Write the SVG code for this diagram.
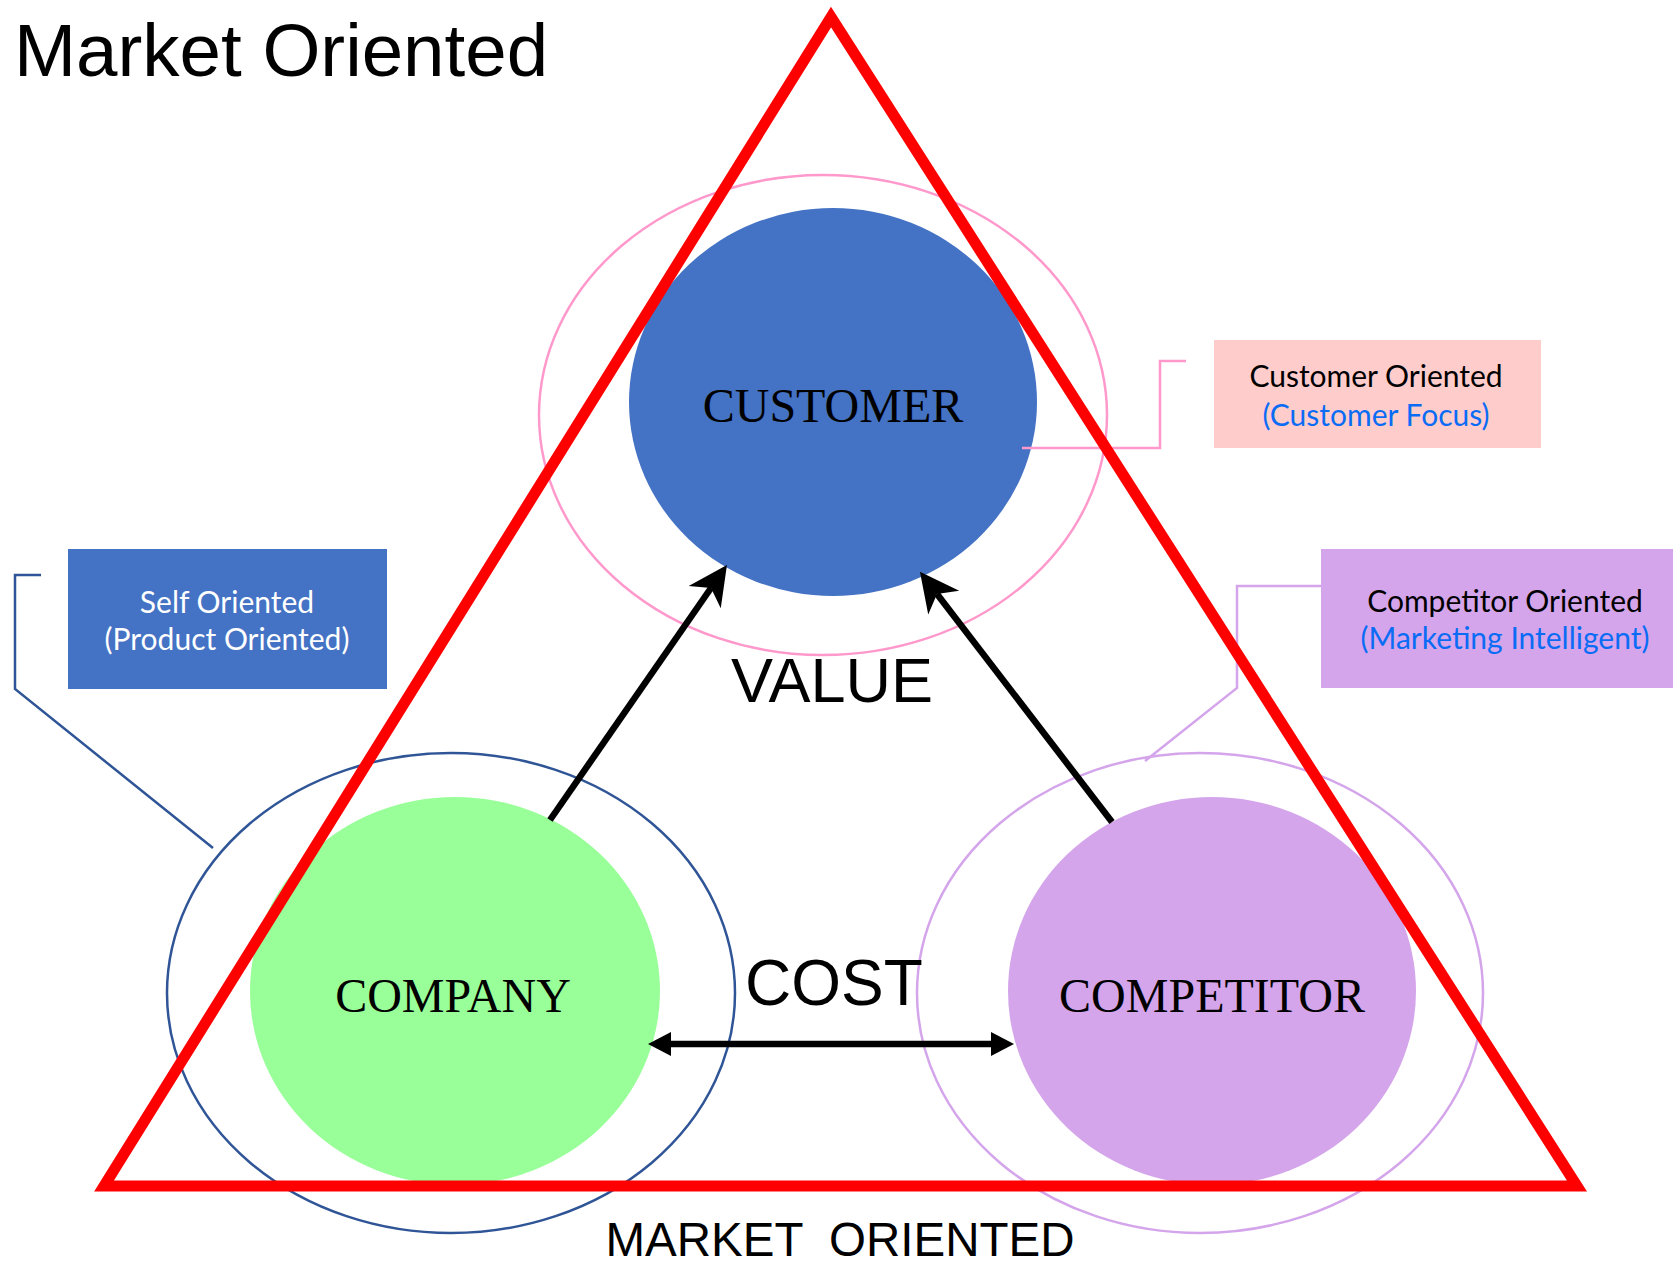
<svg xmlns="http://www.w3.org/2000/svg" width="1673" height="1262" viewBox="0 0 1673 1262">
<style>
.ttl{font-family:"Liberation Sans",Arial,sans-serif;fill:#000}
.node{font-family:"Liberation Serif","Times New Roman",serif;font-size:48px;fill:#000;text-anchor:middle}
.lbl{font-family:Lato,"Open Sans",sans-serif;font-size:30px;text-anchor:middle}
.blk{fill:#000}
.lnk{fill:#0A6CF5}
.wht{fill:#fff}
.arrow{stroke:#000;stroke-width:6.5;fill:none}
.call{fill:none;stroke-width:2.5}
</style>
<defs>
<marker id="stealth" markerUnits="userSpaceOnUse" viewBox="-12 -20 41 40" refX="0" refY="0" markerWidth="41" markerHeight="40" orient="auto" overflow="visible">
<path d="M28,0 L-11,-19.5 L0,0 L-11,19.5 Z" fill="#000"/>
</marker>
<marker id="tri" markerUnits="userSpaceOnUse" viewBox="0 -12 24 24" refX="0" refY="0" markerWidth="24" markerHeight="24" orient="auto-start-reverse" overflow="visible">
<path d="M23,0 L0,-12 L0,12 Z" fill="#000"/>
</marker>
</defs>
<rect width="1673" height="1262" fill="#fff"/>

<g id="title">
<text class="ttl" x="14" y="76" font-size="74.5">Market Oriented</text>
</g>

<g id="customer">
<ellipse cx="823" cy="415" rx="284" ry="240" fill="none" stroke="#FF99CC" stroke-width="2.5"/>
<ellipse cx="833" cy="402" rx="204" ry="194" fill="#4472C4"/>
<text class="node" x="833" y="422">CUSTOMER</text>
</g>

<g id="company">
<ellipse cx="451" cy="993" rx="284" ry="240" fill="none" stroke="#2F5597" stroke-width="2.5"/>
<ellipse cx="455" cy="991" rx="205" ry="194" fill="#99FF99"/>
<text class="node" x="453" y="1012">COMPANY</text>
</g>

<g id="competitor">
<ellipse cx="1200" cy="993" rx="283" ry="240" fill="none" stroke="#D4A5EB" stroke-width="2.5"/>
<ellipse cx="1212" cy="991" rx="204" ry="194" fill="#D4A5EB"/>
<text class="node" x="1212" y="1012">COMPETITOR</text>
</g>

<g id="value-label">
<text class="ttl" x="832" y="702" font-size="63" text-anchor="middle">VALUE</text>
</g>
<g id="cost-label">
<text class="ttl" x="834" y="1005" font-size="64" text-anchor="middle">COST</text>
</g>
<g id="market-label">
<text class="ttl" x="840" y="1256" font-size="47.5" text-anchor="middle" xml:space="preserve">MARKET  ORIENTED</text>
</g>

<g id="connectors">
<polyline class="call" stroke="#FF99CC" points="1186,361 1160,361 1160,448 1022,448"/>
<polyline class="call" stroke="#2F5597" points="41,575 15,575 15,689 213,848"/>
<polyline class="call" stroke="#D4A5EB" points="1321,586 1237,586 1237,688 1145,761"/>
<line class="arrow" x1="550" y1="820" x2="711" y2="588" marker-end="url(#stealth)"/>
<line class="arrow" x1="1112" y1="822" x2="937" y2="594" marker-end="url(#stealth)"/>
<line class="arrow" stroke-width="7" x1="671" y1="1044" x2="991" y2="1044" marker-start="url(#tri)" marker-end="url(#tri)"/>
</g>

<g id="customer-oriented">
<rect x="1214" y="340" width="327" height="108" fill="#FFCCCC"/>
<text class="lbl blk" x="1376" y="387">Customer Oriented</text>
<text class="lbl lnk" x="1376" y="426">(Customer Focus)</text>
</g>

<g id="self-oriented">
<rect x="68" y="549" width="319" height="140" fill="#4472C4"/>
<text class="lbl wht" x="227" y="613">Self Oriented</text>
<text class="lbl wht" x="227" y="650">(Product Oriented)</text>
</g>

<g id="competitor-oriented">
<rect x="1321" y="549" width="352" height="139" fill="#D4A5EB"/>
<text class="lbl blk" x="1505" y="612">Competitor Oriented</text>
<text class="lbl lnk" x="1505" y="649">(Marketing Intelligent)</text>
</g>

<g id="market-triangle">
<polygon points="831,17 1577,1186 104,1186" fill="none" stroke="#FF0000" stroke-width="11" stroke-linejoin="miter" stroke-miterlimit="10"/>
</g>
</svg>
